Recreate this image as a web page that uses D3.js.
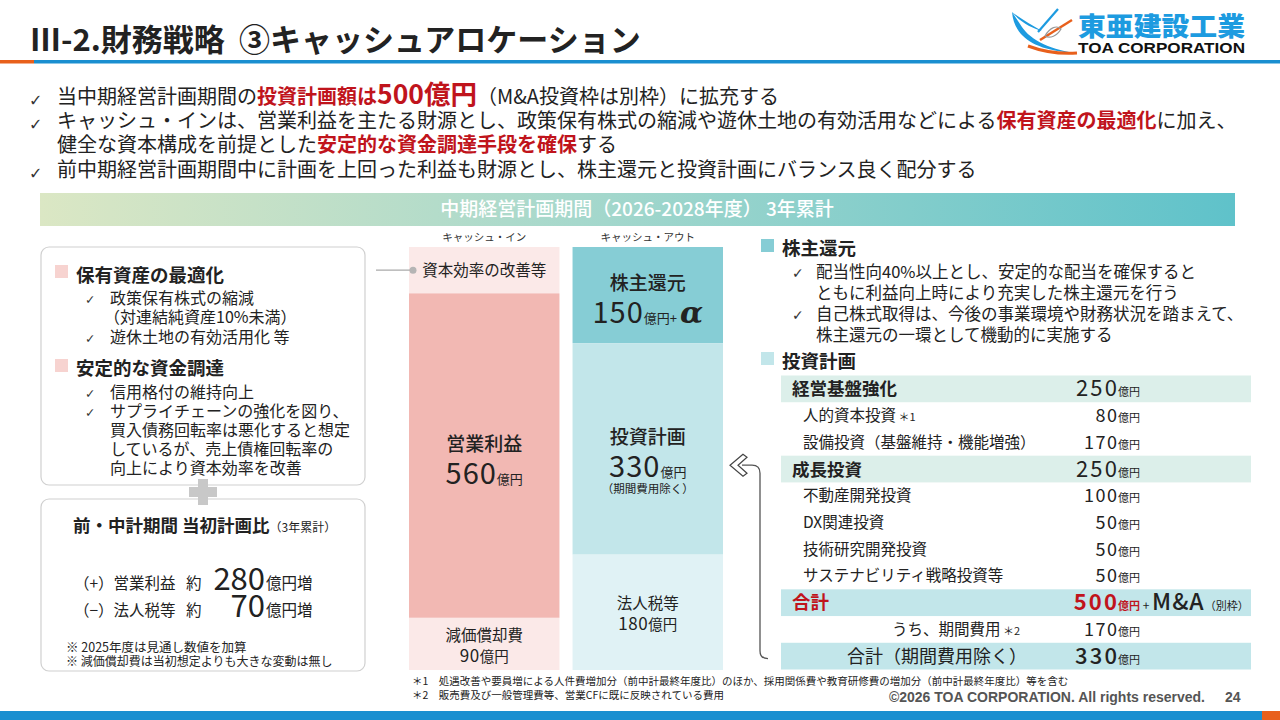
<!DOCTYPE html>
<html><head><meta charset="utf-8">
<script src="https://cdn.jsdelivr.net/npm/d3@7"></script>
<style>
html,body{margin:0;padding:0;background:#fff;}
svg{display:block;font-family:"Noto Sans CJK JP","Noto Sans",sans-serif;}
</style></head>
<body>
<svg id="c" width="1280" height="720"></svg>
<script>
// ---------- data ----------
const titleText = "Ⅲ-2.財務戦略  ③キャッシュアロケーション";
const bannerText = "中期経営計画期間（2026-2028年度） 3年累計";
const cashInLabels = ["資本効率の改善等", "営業利益", "減価償却費"];
const cashInValues = [80, 560, 90];        // first segment unlabelled: estimated from its drawn size
const cashOutLabels = ["株主還元", "投資計画", "法人税等"];
const cashOutValues = [150, 330, 180];
const investNames = ["経営基盤強化", "人的資本投資", "設備投資（基盤維持・機能増強）", "成長投資",
  "不動産開発投資", "DX関連投資", "技術研究開発投資", "サステナビリティ戦略投資等",
  "合計", "うち、期間費用", "合計（期間費用除く）"];
const investNotes = ["", "＊1", "", "", "", "", "", "", "", "＊2", ""];
const investValues = [250, 80, 170, 250, 100, 50, 50, 50, 500, 170, 330];
const investKinds = ["head", "item", "item", "head", "item", "item", "item", "item", "total", "sub", "net"];
const planDiffLabels = ["（+）営業利益", "（−）法人税等"];
const planDiffValues = [280, 70];

// ---------- helpers ----------
const svg = d3.select("#c");
const DARK = "#222", RED = "#c0141c";
function rich(sel, x, y, parts, anchor) {
  const t = sel.append("text").attr("x", x).attr("y", y).attr("text-anchor", anchor || "start").attr("fill", DARK);
  parts.forEach(p => {
    const ts = t.append("tspan").text(p.t).attr("font-size", p.s);
    if (p.w) ts.attr("font-weight", p.w);
    if (p.c) ts.attr("fill", p.c);
    if (p.i) ts.attr("font-style", "italic");
    if (p.f) ts.attr("font-family", p.f);
    if (p.ls) ts.attr("letter-spacing", p.ls);
    if (p.dx) ts.attr("dx", p.dx);
  });
  return t;
}
function check(sel, x, y, s) {
  sel.append("text").attr("x", x).attr("y", y).attr("font-size", s || 14)
    .attr("font-family", "DejaVu Sans").attr("fill", "#333").text("✓");
}

// ---------- header ----------
svg.append("text").attr("x", 30).attr("y", 51).attr("font-size", 31).attr("font-weight", 700)
  .attr("fill", DARK).attr("xml:space", "preserve").text(titleText);
svg.append("rect").attr("x", 0).attr("y", 60).attr("width", 34).attr("height", 3.5).attr("fill", "#e8601c");
svg.append("rect").attr("x", 34).attr("y", 60).attr("width", 1246).attr("height", 3.5).attr("fill", "#1a8fd0");

// logo
const lg = svg.append("g");
lg.append("path").attr("d", "M1012,12 C1014,34 1030,48 1064,52 L1076,53 C1046,49 1028,38 1020,24 Z").attr("fill", "#1d9be0");
lg.append("path").attr("d", "M1012,12 C1020,22 1032,28 1042,31 C1030,24 1020,18 1012,12 Z").attr("fill", "#1d9be0");
lg.append("path").attr("d", "M1028,46 C1044,52 1062,54 1077,53").attr("stroke", "#e8601c").attr("stroke-width", 3).attr("fill", "none");
lg.append("path").attr("d", "M1040,40 L1072,20").attr("stroke", "#e8601c").attr("stroke-width", 2.5);
lg.append("path").attr("d", "M1038,32 L1058,9").attr("stroke", "#1d9be0").attr("stroke-width", 2.2);
lg.append("path").attr("d", "M1045,36 C1050,27 1057,25 1061,29 C1057,36 1050,39 1045,36").attr("stroke", "#999").attr("stroke-width", 1.2).attr("fill", "none");
lg.append("text").attr("x", 1078).attr("y", 36).attr("font-size", 26).attr("font-weight", 900)
  .attr("fill", "#1d9be0").attr("textLength", 167).attr("lengthAdjust", "spacingAndGlyphs").text("東亜建設工業");
lg.append("text").attr("x", 1078).attr("y", 53).attr("font-size", 15).attr("font-weight", 700)
  .attr("font-family", "Liberation Sans, Arial").attr("fill", "#111").attr("textLength", 167)
  .attr("lengthAdjust", "spacingAndGlyphs").text("TOA CORPORATION");

// ---------- bullets ----------
const bl = svg.append("g");
const BS = 20;
check(bl, 29, 106, 16);
rich(bl, 57, 104, [{t: "当中期経営計画期間の", s: BS}, {t: "投資計画額は", s: BS, w: 700, c: RED},
  {t: "500億円", s: 26.5, w: 700, c: RED}, {t: "（M&A投資枠は別枠）に拡充する", s: BS}]);
check(bl, 29, 130, 16);
rich(bl, 57, 128, [{t: "キャッシュ・インは、営業利益を主たる財源とし、政策保有株式の縮減や遊休土地の有効活用などによる", s: BS},
  {t: "保有資産の最適化", s: BS, w: 700, c: RED}, {t: "に加え、", s: BS}]);
rich(bl, 57, 152, [{t: "健全な資本構成を前提とした", s: BS}, {t: "安定的な資金調達手段を確保", s: BS, w: 700, c: RED}, {t: "する", s: BS}]);
check(bl, 29, 179, 16);
rich(bl, 57, 177, [{t: "前中期経営計画期間中に計画を上回った利益も財源とし、株主還元と投資計画にバランス良く配分する", s: BS}]);

// ---------- banner ----------
const defs = svg.append("defs");
const grad = defs.append("linearGradient").attr("id", "bg1").attr("x1", "0").attr("x2", "1");
grad.append("stop").attr("offset", "0").attr("stop-color", "#dbe7c4");
grad.append("stop").attr("offset", "0.45").attr("stop-color", "#a6d8cc");
grad.append("stop").attr("offset", "1").attr("stop-color", "#5fc2ca");
svg.append("rect").attr("x", 40).attr("y", 193).attr("width", 1195).attr("height", 33).attr("fill", "url(#bg1)");
svg.append("text").attr("x", 637).attr("y", 216).attr("text-anchor", "middle").attr("font-size", 19)
  .attr("fill", "#fff").attr("font-weight", 500).text(bannerText);

// ---------- stacked columns ----------
const colTop = 247, colBottom = 670;
const colX = d3.scaleBand().domain(["in", "out"]).range([409, 723]).paddingInner(0.08);
const cols = [
  {key: "in", head: "キャッシュ・イン", labels: cashInLabels, values: cashInValues,
   colors: ["#fbe9e8", "#f2b8b3", "#fbe9e8"]},
  {key: "out", head: "キャッシュ・アウト", labels: cashOutLabels, values: cashOutValues,
   colors: ["#86cdd5", "#c2e6ea", "#e0f2f5"]}
];
const cg = svg.append("g");
cols.forEach(col => {
  const y = d3.scaleLinear().domain([0, d3.sum(col.values)]).range([colTop, colBottom]);
  const cum = [0, ...d3.cumsum(col.values)];
  const x0 = colX(col.key), w = colX.bandwidth(), cx = x0 + w / 2;
  cg.append("text").attr("x", cx).attr("y", 241).attr("text-anchor", "middle").attr("font-size", 10.5)
    .attr("fill", "#333").text(col.head);
  col.values.forEach((v, i) => {
    const y0 = y(cum[i]), y1 = y(cum[i + 1]), mid = (y0 + y1) / 2;
    cg.append("rect").attr("x", x0).attr("y", y0).attr("width", w).attr("height", y1 - y0).attr("fill", col.colors[i]);
    const lab = col.labels[i];
    if (col.key === "in" && i === 0) {
      rich(cg, cx, mid + 6, [{t: lab, s: 15.5}], "middle");
      return;
    }
    const big = (col.key === "in" && i === 1) || (col.key === "out" && i < 2);
    if (big) {
      rich(cg, cx, mid - 5, [{t: lab, s: 19, w: 500}], "middle");
      const parts = [{t: String(v), s: 29, ls: 1}, {t: "億円", s: 13}];
      if (col.key === "out" && i === 0) { parts.push({t: "+", s: 13}); parts.push({t: "α", s: 30, w: 700, i: true, f: "DejaVu Serif", dx: 3}); }
      rich(cg, cx, mid + 28, parts, "middle");
      if (col.key === "out" && i === 1) rich(cg, cx, mid + 44, [{t: "（期間費用除く）", s: 11.5}], "middle");
    } else {
      rich(cg, cx, mid - 3, [{t: lab, s: 15.5}], "middle");
      rich(cg, cx, mid + 18, [{t: String(v), s: 17, ls: 0.5}, {t: "億円", s: 14.5}], "middle");
    }
  });
});
// connector from left panel to 資本効率
{
  const yIn = d3.scaleLinear().domain([0, d3.sum(cashInValues)]).range([colTop, colBottom]);
  const yc = (yIn(0) + yIn(cashInValues[0])) / 2;
  cg.append("line").attr("x1", 376).attr("x2", 413).attr("y1", yc).attr("y2", yc).attr("stroke", "#aaa").attr("stroke-width", 1.2);
  cg.append("circle").attr("cx", 413).attr("cy", yc).attr("r", 3.5).attr("fill", "#b5b5b5");
}

// ---------- left panel ----------
const lp = svg.append("g");
lp.append("rect").attr("x", 41).attr("y", 247).attr("width", 324).attr("height", 238).attr("rx", 8)
  .attr("fill", "#fff").attr("stroke", "#d0d0d0").attr("stroke-width", 1.2);
lp.append("rect").attr("x", 55).attr("y", 265).attr("width", 13).attr("height", 13).attr("fill", "#f7d3d0");
rich(lp, 76, 282, [{t: "保有資産の最適化", s: 18.5, w: 700}]);
const L1 = [["政策保有株式の縮減", true, 304], ["（対連結純資産10%未満）", false, 323], ["遊休土地の有効活用化 等", true, 343]];
L1.forEach(d => { if (d[1]) check(lp, 85, d[2], 12.5); rich(lp, d[1] ? 110 : 104, d[2], [{t: d[0], s: 16}]); });
lp.append("rect").attr("x", 55).attr("y", 359).attr("width", 13).attr("height", 13).attr("fill", "#f7d3d0");
rich(lp, 76, 375, [{t: "安定的な資金調達", s: 18.5, w: 700}]);
const L2 = [["信用格付の維持向上", true, 398], ["サプライチェーンの強化を図り、", true, 417], ["買入債務回転率は悪化すると想定", false, 436],
  ["しているが、売上債権回転率の", false, 455], ["向上により資本効率を改善", false, 474]];
L2.forEach(d => { if (d[1]) check(lp, 85, d[2], 12.5); rich(lp, 110, d[2], [{t: d[0], s: 16}]); });
lp.append("rect").attr("x", 41).attr("y", 499).attr("width", 324).attr("height", 172).attr("rx", 8)
  .attr("fill", "#fff").attr("stroke", "#d0d0d0").attr("stroke-width", 1.2);
// plus sign
lp.append("rect").attr("x", 189).attr("y", 487).attr("width", 28).attr("height", 10).attr("fill", "#c8c8c8");
lp.append("rect").attr("x", 198).attr("y", 479).attr("width", 10).attr("height", 26).attr("fill", "#c8c8c8");
rich(lp, 73, 532, [{t: "前・中計期間 当初計画比", s: 17.5, w: 700}, {t: "（3年累計）", s: 12}]);
planDiffLabels.forEach((lab, i) => {
  const yy = 589 + i * 27;
  rich(lp, 74, yy, [{t: lab, s: 15.5}]);
  rich(lp, 186, yy, [{t: "約", s: 15.5}]);
  rich(lp, 265, yy + 1, [{t: String(planDiffValues[i]), s: 31}], "end");
  rich(lp, 266, yy, [{t: "億円増", s: 15.5}]);
});
rich(lp, 66, 652, [{t: "※ 2025年度は見通し数値を加算", s: 12.5}]);
rich(lp, 66, 666, [{t: "※ 減価償却費は当初想定よりも大きな変動は無し", s: 12}]);

// ---------- right panel ----------
const rp = svg.append("g");
rp.append("rect").attr("x", 761).attr("y", 239).attr("width", 13).attr("height", 13).attr("fill", "#86cdd5");
rich(rp, 782, 255, [{t: "株主還元", s: 18.5, w: 700}]);
const R1 = [["配当性向40%以上とし、安定的な配当を確保すると", true, 278], ["ともに利益向上時により充実した株主還元を行う", false, 299],
  ["自己株式取得は、今後の事業環境や財務状況を踏まえて、", true, 320], ["株主還元の一環として機動的に実施する", false, 341]];
R1.forEach(d => { if (d[1]) check(rp, 792, d[2], 14); rich(rp, 816, d[2], [{t: d[0], s: 16.5}]); });
rp.append("rect").attr("x", 761).attr("y", 352).attr("width", 13).attr("height", 13).attr("fill", "#c2e6ea");
rich(rp, 782, 368, [{t: "投資計画", s: 18.5, w: 700}]);

// investment table
const rowY = d3.scaleBand().domain(d3.range(investNames.length)).range([375, 669]);
const bgFill = {head: "#dcefea", total: "#c2e6ea", net: "#c2e6ea"};
const tg = svg.append("g");
const NUMX = 1117;
function num(sel, y, v, s, ls, extra, color, weight) {
  rich(sel, NUMX + ls, y, [{t: String(v), s: s, ls: ls, c: color, w: weight}], "end");
  rich(sel, NUMX + 1, y, extra);
}
investNames.forEach((name, i) => {
  const k = investKinds[i], y0 = rowY(i), h = rowY.bandwidth(), mid = y0 + h / 2;
  if (bgFill[k]) tg.append("rect").attr("x", 781).attr("y", y0 + 0.5).attr("width", 470).attr("height", h).attr("fill", bgFill[k]);
  const v = investValues[i];
  const note = investNotes[i] ? [{t: " " + investNotes[i], s: 11}] : [];
  if (k === "head") {
    rich(tg, 792, mid + 7, [{t: name, s: 17.5, w: 700}]);
    num(tg, mid + 8, v, 22, 2.2, [{t: "億円", s: 11}]);
  } else if (k === "item") {
    rich(tg, 803, mid + 6, [{t: name, s: 15.5}].concat(note));
    num(tg, mid + 7, v, 18, 1.5, [{t: "億円", s: 11}]);
  } else if (k === "total") {
    rich(tg, 792, mid + 7, [{t: name, s: 18.5, w: 700, c: RED}]);
    num(tg, mid + 8, v, 22, 2.2, [{t: "億円", s: 11, w: 700, c: RED}, {t: " + ", s: 12},
      {t: "M&A", s: 23, w: 500, ls: 1}, {t: "（別枠）", s: 11}], RED, 700);
  } else if (k === "sub") {
    rich(tg, 1020, mid + 6, [{t: name, s: 15.5}].concat(note), "end");
    num(tg, mid + 7, v, 18, 1.5, [{t: "億円", s: 11}]);
  } else {
    rich(tg, 937, mid + 7, [{t: name, s: 18}], "middle");
    num(tg, mid + 8, v, 22, 2.2, [{t: "億円", s: 11}], null, 500);
  }
});
// bracket arrow
{
  const yTop = rowY(3) + 10, yBot = rowY(10) + rowY.bandwidth() / 2 + 3;
  tg.append("path").attr("d", `M768,${yBot} Q760,${yBot} 760,${yBot - 8} L760,${yTop + 8} Q760,${yTop} 752,${yTop} L742,${yTop}`)
    .attr("fill", "none").attr("stroke", "#555").attr("stroke-width", 1.3);
  tg.append("path").attr("d", `M743,${yTop - 11} L730,${yTop} L743,${yTop + 11} L747,${yTop + 8} L738,${yTop} L747,${yTop - 8} Z`)
    .attr("fill", "#fff").attr("stroke", "#444").attr("stroke-width", 1.2);
}

// ---------- footnotes & footer ----------
rich(svg, 412, 685, [{t: "＊1　処遇改善や要員増による人件費増加分（前中計最終年度比）のほか、採用関係費や教育研修費の増加分（前中計最終年度比）等を含む", s: 10.5}]);
rich(svg, 412, 699, [{t: "＊2　販売費及び一般管理費等、営業CFに既に反映されている費用", s: 10.5}]);
svg.append("text").attr("x", 1205).attr("y", 702).attr("text-anchor", "end").attr("font-size", 14)
  .attr("font-weight", 700).attr("font-family", "Liberation Sans, Arial").attr("fill", "#555")
  .text("©2026 TOA CORPORATION. All rights reserved.");
svg.append("text").attr("x", 1225).attr("y", 702).attr("font-size", 14).attr("font-weight", 700)
  .attr("font-family", "Liberation Sans, Arial").attr("fill", "#555").text("24");
svg.append("rect").attr("x", 0).attr("y", 711).attr("width", 1262).attr("height", 9).attr("fill", "#1a8fd0");
svg.append("rect").attr("x", 1262).attr("y", 711).attr("width", 18).attr("height", 9).attr("fill", "#e8601c");
</script>
</body></html>
